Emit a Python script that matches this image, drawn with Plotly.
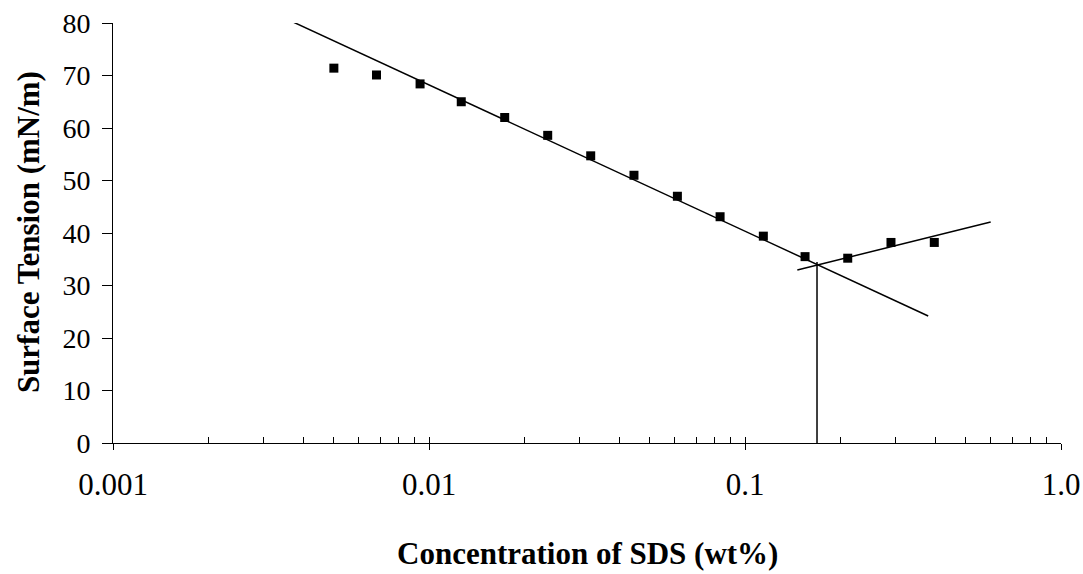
import plotly.graph_objects as go

# Measured surface tension of SDS solutions
conc_wt = [0.0050, 0.00682, 0.00937, 0.01265, 0.01736, 0.02375, 0.03249, 0.04453,
           0.0611, 0.0834, 0.1143, 0.1549, 0.2114, 0.2897, 0.3972]
tension = [71.4, 70.1, 68.4, 65.0, 62.0, 58.6, 54.7, 51.0,
           47.0, 43.1, 39.4, 35.5, 35.2, 38.2, 38.2]

# Linear fits (in log concentration) below and above the CMC
fit_below_x = [0.00365, 0.380]
fit_below_y = [80.4, 24.2]
fit_above_x = [0.1464, 0.599]
fit_above_y = [32.95, 42.1]

# Critical micelle concentration marker
cmc_x = [0.169, 0.169]
cmc_y = [0.0, 34.5]

major_ticks = [0.001, 0.01, 0.1, 1.0]
major_labels = ["0.001", "0.01", "0.1", "1.0"]
minor_ticks = [m * d for d in (0.001, 0.01, 0.1) for m in range(2, 10)] + major_ticks

x_title = "Concentration of SDS (wt%)"
y_title = "Surface Tension (mN/m)"

FONT = "Liberation Serif"
line_style = dict(color="black", width=1.5)

fig = go.Figure()
fig.add_trace(go.Scatter(x=fit_below_x, y=fit_below_y, mode="lines", line=line_style,
                         showlegend=False, hoverinfo="skip"))
fig.add_trace(go.Scatter(x=fit_above_x, y=fit_above_y, mode="lines", line=line_style,
                         showlegend=False, hoverinfo="skip"))
fig.add_trace(go.Scatter(x=cmc_x, y=cmc_y, mode="lines", line=line_style,
                         showlegend=False, hoverinfo="skip"))
fig.add_trace(go.Scatter(x=conc_wt, y=tension, mode="markers",
                         marker=dict(symbol="square", size=9, color="black"),
                         showlegend=False, name="SDS"))
# Empty trace that carries the secondary axis used for the inward minor ticks
fig.add_trace(go.Scatter(x=[], y=[], xaxis="x2", showlegend=False, hoverinfo="skip"))

fig.update_layout(
    width=1083, height=574,
    margin=dict(l=113, r=22, t=23, b=131),
    paper_bgcolor="white", plot_bgcolor="white",
    font=dict(family=FONT, color="black"),
    xaxis=dict(
        type="log", range=[-3, 0], automargin=False,
        tickmode="array", tickvals=major_ticks, ticktext=major_labels,
        ticks="outside", ticklen=6, tickwidth=1, tickcolor="black",
        showline=True, linecolor="black", linewidth=1,
        showgrid=False, zeroline=False,
        tickfont=dict(family=FONT, size=31),
        ticklabelstandoff=8,
    ),
    xaxis2=dict(
        type="log", range=[-3, 0], overlaying="x", anchor="y", side="bottom",
        automargin=False,
        tickmode="array", tickvals=minor_ticks, ticktext=[""] * len(minor_ticks),
        ticks="inside", ticklen=6, tickwidth=1, tickcolor="black",
        showline=False, showgrid=False, zeroline=False, showticklabels=False,
    ),
    yaxis=dict(
        range=[0, 80], tickmode="linear", tick0=0, dtick=10, automargin=False,
        ticks="outside", ticklen=10, tickwidth=1, tickcolor="black",
        showline=True, linecolor="black", linewidth=1,
        showgrid=False, zeroline=False,
        tickfont=dict(family=FONT, size=28),
        ticklabelstandoff=6,
    ),
    annotations=[
        dict(text=f"<b>{x_title}</b>", xref="paper", yref="paper",
             x=0.5, y=-0.262, xanchor="center", yanchor="middle",
             showarrow=False, font=dict(family=FONT, size=31)),
        dict(text=f"<b>{y_title}</b>", xref="paper", yref="paper",
             x=-0.0897, y=0.502, xanchor="center", yanchor="middle",
             textangle=-90, showarrow=False, font=dict(family=FONT, size=31)),
    ],
)

fig.write_html("out.html")
